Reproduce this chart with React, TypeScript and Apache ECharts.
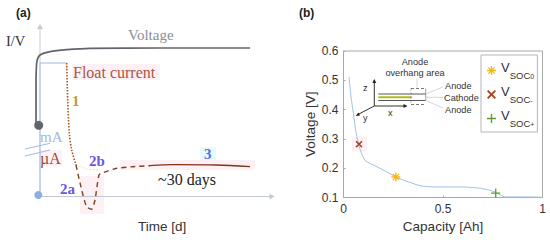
import React, { useEffect, useRef } from "react";
import * as echarts from "echarts";

// Panel (a): schematic units
const voltageCurve = [[-4, 71.5], [-4, 110], [-3.3, 133.5], [0, 141.5], [10, 144.8], [26.7, 146.8], [50, 148.2], [120, 148.5], [210, 148.5]];
const blueStep = [[0, 0], [0, 133.5], [26.7, 133.5]];
const floatDotted = [[26.7, 133.5], [27.7, 96.5], [29.3, 63.5], [31.7, 46.5], [36, 31.5]];
const floatDashed = [[36, 31.5], [41.7, 6.5], [46.7, -10.5], [51.7, -12.8], [55, -3.5], [59, 21.5], [63, 23.8], [76.7, 28.2], [93, 29.8], [110, 30.8]];
const floatSolid = [[110, 30.8], [133, 31.8], [176.7, 31.5], [210, 29.8]];
const faintBranch = [[36, 31.5], [48, 27], [59, 26.5]];
const breakUpper = [[-15, 47.5], [10, 53.2]];
const breakLower = [[-15, 40.5], [10, 46.5]];
const voltageStart = [[-1.3, 71.2]];
const currentStart = [[-1.7, 1.5]];
const timeAxis = [[-2, 0], [231, 0]];
const levelAxis = [[0, 133.5], [0, 169]];
const timeArrow = [[232, 0]];
const levelArrow = [[0, 170]];

// Panel (b)
const capacityVoltage = [[0.028, 0.511], [0.038, 0.443], [0.05, 0.386], [0.064, 0.318], [0.079, 0.273], [0.095, 0.244], [0.112, 0.224], [0.159, 0.208], [0.226, 0.184], [0.263, 0.17], [0.326, 0.153], [0.393, 0.139], [0.46, 0.136], [0.594, 0.136], [0.694, 0.131], [0.744, 0.123], [0.769, 0.116], [0.811, 0.102], [0.895, 0.102], [0.995, 0.101]];
const socZero = [[0.263, 0.17]];
const socMinus = [[0.078, 0.282]];
const socPlus = [[0.765, 0.115]];
const yTicksB = [0.1, 0.2, 0.3, 0.4, 0.5, 0.6];

const starPath = "path://M8.500 0h3v6.500l4.500-4.500 2 2-4.500 4.500H20v3h-6.500l4.500 4.500-2 2-4.500-4.500V20h-3v-6.500L4 18l-2-2 4.500-4.500H0v-3h6.500L2 4l2-2 4.500 4.500z";
const crossPath = "path://M3 0l7 7 7-7 3 3-7 7 7 7-3 3-7-7-7 7-3-3 7-7-7-7z";
const plusPath = "path://M8.500 0h3v8.500H20v3h-8.500V20h-3v-8.500H0v-3h8.500z";

const serif = "'Liberation Serif', serif";
const sans = "'Liberation Sans', Arial, sans-serif";

const txt = (text: string, x: number, y: number, fontSize: number, fill: string, extra: any = {}) => ({
  type: "text", x, y,
  style: { text, fontSize, fill, fontFamily: extra.fontFamily || sans, fontWeight: extra.fontWeight || "normal", align: extra.align || "left", verticalAlign: "middle" },
});
const ln = (x1: number, y1: number, x2: number, y2: number, stroke: string, lineWidth = 1, lineDash?: number[]) => ({
  type: "line", shape: { x1, y1, x2, y2 }, style: { stroke, lineWidth, lineDash },
});
const pink = (x: number, y: number, width: number, height: number, fill = "#fef1f6") => ({
  type: "rect", shape: { x, y, width, height }, style: { fill },
});

export default function App() {
  const ref = useRef<HTMLDivElement>(null);
  useEffect(() => {
    const chart = echarts.init(ref.current!, null, { renderer: "svg" });
    const line = (name: string, data: number[][], color: string, width: number, type: any = "solid", smooth: any = false, a = 0) => ({
      name, type: "line", data, xAxisIndex: a, yAxisIndex: a, showSymbol: false, symbol: "none", clip: false, smooth,
      lineStyle: { color, width, type }, z: 3,
    });
    const dot = (name: string, data: number[][], color: string, size: number) => ({
      name, type: "scatter", data, xAxisIndex: 0, yAxisIndex: 0, symbol: "circle", symbolSize: size, clip: false,
      itemStyle: { color, opacity: 1 }, z: 4,
    });
    const arrow = (name: string, data: number[][], rot: number) => ({
      name, type: "scatter", data, xAxisIndex: 0, yAxisIndex: 0, symbol: "triangle", symbolSize: [6, 5], symbolRotate: rot, clip: false,
      itemStyle: { color: "#c3c9d4", opacity: 1 }, z: 3,
    });
    const marker = (name: string, data: number[][], symbol: string, color: string, size: number) => ({
      name, type: "scatter", data, xAxisIndex: 1, yAxisIndex: 1, symbol, symbolSize: size, clip: false,
      itemStyle: { color, opacity: 1 }, z: 5,
    });
    chart.setOption({
      animation: false,
      backgroundColor: "#fff",
      grid: [
        { left: 16, top: 24, width: 258, height: 192.5 },
        { left: 343.5, top: 51, width: 199, height: 146.5, show: true, borderColor: "#a8a8a8", borderWidth: 1, backgroundColor: "transparent" },
      ],
      xAxis: [
        { type: "value", gridIndex: 0, min: -24, max: 234, show: false },
        {
          type: "value", gridIndex: 1, min: 0, max: 1, interval: 0.5,
          name: "Capacity [Ah]", nameLocation: "middle", nameGap: 22,
          nameTextStyle: { fontSize: 13.5, color: "#333", fontFamily: sans },
          axisLine: { lineStyle: { color: "#a8a8a8" } },
          axisTick: { inside: true, length: 2, lineStyle: { color: "#a8a8a8" } },
          axisLabel: { fontSize: 12, color: "#333", fontFamily: sans, margin: 5, formatter: (v: number) => String(v) },
          splitLine: { show: false },
        },
      ],
      yAxis: [
        { type: "value", gridIndex: 0, min: -20, max: 172.5, show: false },
        {
          type: "value", gridIndex: 1, min: yTicksB[0], max: yTicksB[yTicksB.length - 1], interval: 0.1,
          name: "Voltage [V]", nameLocation: "middle", nameGap: 25,
          nameTextStyle: { fontSize: 13.5, color: "#333", fontFamily: sans },
          axisLine: { lineStyle: { color: "#a8a8a8" } },
          axisTick: { inside: true, length: 2, lineStyle: { color: "#a8a8a8" } },
          axisLabel: { fontSize: 12, color: "#333", fontFamily: sans, margin: 5, formatter: (v: number) => v.toFixed(1) },
          splitLine: { show: false },
        },
      ],
      legend: {
        show: true, orient: "vertical", left: 481, top: 55, padding: [6, 3, 4, 6], itemGap: 5, itemWidth: 9, itemHeight: 9,
        backgroundColor: "#fff", borderColor: "#b5b5b5", borderWidth: 1,
        data: ["VSOC0", "VSOC-", "VSOC+"],
        formatter: (n: string) => `{v|V}{s|SOC}{t|${n.slice(4)}}`,
        textStyle: {
          rich: {
            v: { fontSize: 13, color: "#333", fontFamily: sans, verticalAlign: "top", padding: [0, 0, 6, 0] },
            s: { fontSize: 9.5, color: "#333", fontFamily: sans, verticalAlign: "bottom", padding: [6, 0, 0, 0] },
            t: { fontSize: 7, color: "#333", fontFamily: sans, verticalAlign: "bottom", padding: [10, 0, 0, 0] },
          },
        },
      },
      series: [
        line("timeAxis", timeAxis, "#c3c9d4", 1),
        line("levelAxis", levelAxis, "#c3c9d4", 1),
        arrow("timeArrow", timeArrow, -90),
        arrow("levelArrow", levelArrow, 0),
        line("axisStep", blueStep, "#a3b8e0", 1.2),
        line("voltage", voltageCurve, "#62656b", 1.7, "solid", 0.3),
        line("branch", faintBranch, "#eccfb8", 1, [1.5, 2]),
        line("float1", floatDotted, "#a5581f", 1.6, [1.5, 1.5], 0.3),
        line("float2", floatDashed, "#7a4420", 1.4, [5, 4], 0.2),
        line("float3", floatSolid, "#7c3418", 1.3, "solid", 0.3),
        line("breakA", breakUpper, "#a3b8e0", 1),
        line("breakB", breakLower, "#a3b8e0", 1),
        dot("vDot", voltageStart, "#62656b", 9),
        dot("iDot", currentStart, "#8fb0dc", 8),
        line("capacity", capacityVoltage, "#9fc0e6", 1, "solid", 0.2, 1),
        marker("VSOC0", socZero, starPath, "#f2b90f", 9),
        marker("VSOC-", socMinus, crossPath, "#a8431f", 7),
        marker("VSOC+", socPlus, plusPath, "#5c9e2c", 9),
      ],
      graphic: [
        {
          type: "group",
          silent: true,
          children: [
            pink(72, 64, 88, 16),
            pink(40, 150, 22, 16),
            pink(80, 176, 24, 38),
            pink(120, 160, 135, 10),
            pink(200, 147, 16, 13, "#e9f8fb"),
            pink(352, 136.500, 15, 15),
            txt("(a)", 16, 13, 12, "#222", { fontWeight: "bold" }),
            txt("I/V", 6, 41, 14.500, "#333", { fontFamily: serif }),
            txt("Voltage", 128, 35, 15, "#8b8e94", { fontFamily: serif }),
            txt("Float current", 73, 72, 16, "#a9553f", { fontFamily: serif }),
            txt("1", 72, 101, 15, "#c79a2c", { fontFamily: serif, fontWeight: "bold" }),
            txt("mA", 40, 137, 15, "#a3b8e0", { fontFamily: serif }),
            txt("µA", 40, 158, 16, "#a04a30", { fontFamily: serif }),
            txt("2a", 60, 189, 15, "#6c55e0", { fontFamily: serif, fontWeight: "bold" }),
            txt("2b", 89, 161, 15, "#6c55e0", { fontFamily: serif, fontWeight: "bold" }),
            txt("3", 204, 154, 15, "#5570d8", { fontFamily: serif, fontWeight: "bold" }),
            txt("~30 days", 158, 179, 16, "#222", { fontFamily: serif }),
            txt("Time [d]", 138, 226, 13.500, "#333"),
            txt("(b)", 299, 13, 12, "#222", { fontWeight: "bold" }),
            txt("Anode", 415, 62, 9.200, "#333", { align: "center" }),
            txt("overhang area", 415, 73, 9.200, "#333", { align: "center" }),
            txt("Anode", 445, 86, 9.200, "#333"),
            txt("Cathode", 444, 97.500, 9.200, "#333"),
            txt("Anode", 445, 109.500, 9.200, "#333"),
            txt("z", 363, 88, 9.200, "#333"),
            txt("x", 388, 112.500, 9.200, "#333"),
            txt("y", 363, 117.500, 9.200, "#333"),
            ln(374.3, 106, 374.3, 80, "#333"),
            { type: "polygon", shape: { points: [[374.3, 79], [372.3, 83], [376.3, 83]] }, style: { fill: "#222" } },
            ln(374.3, 106, 406, 106, "#333"),
            { type: "polygon", shape: { points: [[407.5, 106], [403.5, 104], [403.5, 108]] }, style: { fill: "#222" } },
            ln(374.3, 106, 357, 115, "#333"),
            { type: "polygon", shape: { points: [[355.5, 116], [358.5, 112.5], [360, 115.5]] }, style: { fill: "#222" } },
            ln(378.3, 94, 425.7, 94, "#55585c", 1.2),
            ln(378.3, 97.3, 411.7, 97.3, "#b4ba24", 2),
            ln(378.3, 100.5, 425.7, 100.5, "#55585c", 1.2),
            ln(411, 88.5, 425.7, 88.5, "#55585c", 0.8, [3, 2]),
            ln(411, 104.5, 425.7, 104.5, "#55585c", 0.8, [3, 2]),
            ln(411, 88.5, 411, 104.5, "#777", 0.7, [2, 2]),
            ln(425.7, 88.5, 425.7, 100.5, "#777", 0.7),
            ln(425.7, 94, 443, 87, "#c4c4c4", 0.7),
            ln(425.7, 97.3, 443, 97.3, "#c4c4c4", 0.7),
            ln(425.7, 100.5, 443, 108, "#c4c4c4", 0.7),
            ln(417, 78.5, 417, 87.5, "#c4c4c4", 0.7),
          ],
        },
      ],
    });
    return () => chart.dispose();
  }, []);
  return <div ref={ref} style={{ position: "absolute", left: 0, top: 0, width: 550, height: 240 }} />;
}
